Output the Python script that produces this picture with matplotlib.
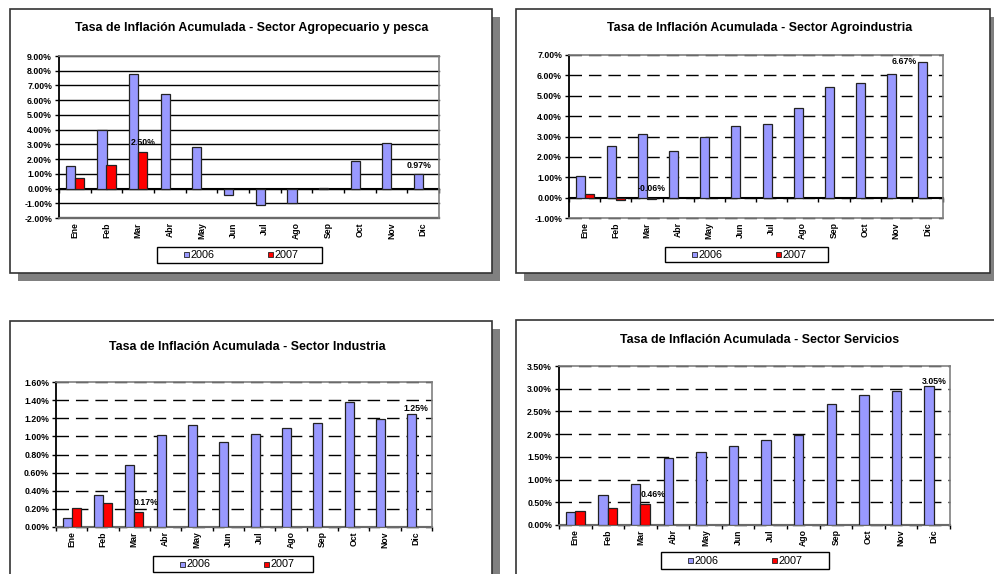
import matplotlib
matplotlib.use("Agg")
import matplotlib.pyplot as plt
from matplotlib.patches import Rectangle
import numpy as np

plt.rcParams['font.family'] = ['Liberation Sans', 'DejaVu Sans']

W, H = 995, 574

months = ["Ene", "Feb", "Mar", "Abr", "May", "Jun", "Jul", "Ago", "Sep", "Oct", "Nov", "Dic"]
series_names = ["2006", "2007"]

titles = [
    "Tasa de Inflación Acumulada - Sector Agropecuario y pesca",
    "Tasa de Inflación Acumulada - Sector Agroindustria",
    "Tasa de Inflación Acumulada - Sector Industria",
    "Tasa de Inflación Acumulada - Sector Servicios",
]

agro_2006 = [1.55, 4.00, 7.80, 6.40, 2.80, -0.45, -1.15, -1.00, 0.05, 1.85, 3.10, 0.97]
agro_2007 = [0.75, 1.60, 2.50]
agroind_2006 = [1.05, 2.52, 3.12, 2.30, 3.00, 3.52, 3.62, 4.40, 5.45, 5.62, 6.05, 6.67]
agroind_2007 = [0.20, -0.10, -0.06]
ind_2006 = [0.10, 0.35, 0.68, 1.02, 1.13, 0.94, 1.03, 1.09, 1.15, 1.38, 1.19, 1.25]
ind_2007 = [0.21, 0.27, 0.17]
serv_2006 = [0.29, 0.67, 0.90, 1.47, 1.61, 1.75, 1.88, 1.98, 2.66, 2.86, 2.96, 3.05]
serv_2007 = [0.31, 0.37, 0.46]

yticks_agro = [-2, -1, 0, 1, 2, 3, 4, 5, 6, 7, 8, 9]
yticks_agroind = [-1, 0, 1, 2, 3, 4, 5, 6, 7]
yticks_ind = [0.0, 0.2, 0.4, 0.6, 0.8, 1.0, 1.2, 1.4, 1.6]
yticks_serv = [0.0, 0.5, 1.0, 1.5, 2.0, 2.5, 3.0, 3.5]

C06 = "#9999FF"
C07 = "#FF0000"

fig = plt.figure(figsize=(W / 100, H / 100), dpi=100)


def fx(x):
    return x / W


def fy(y):
    return 1 - y / H


def frame_box(x0, y0, x1, y1):
    sh = 8
    fig.add_artist(Rectangle((fx(x0 + sh), fy(y1 + sh)), (x1 - x0) / W, (y1 - y0) / H,
                             transform=fig.transFigure, facecolor="#808080",
                             edgecolor="none", zorder=0))
    fig.add_artist(Rectangle((fx(x0), fy(y1)), (x1 - x0) / W, (y1 - y0) / H,
                             transform=fig.transFigure, facecolor="white",
                             edgecolor="#333333", linewidth=1.2, zorder=0.5))


def legend_box(x0, y0, x1, y1):
    fig.add_artist(Rectangle((fx(x0), fy(y1)), (x1 - x0) / W, (y1 - y0) / H,
                             transform=fig.transFigure, facecolor="white",
                             edgecolor="black", linewidth=1.0, zorder=3))
    yc = (y0 + y1) / 2
    for off, col, name in [(27, C06, series_names[0]), (111, C07, series_names[1])]:
        fig.add_artist(Rectangle((fx(x0 + off), fy(yc + 2.5)), 5 / W, 5 / H,
                                 transform=fig.transFigure, facecolor=col,
                                 edgecolor="#222222", linewidth=0.6, zorder=4))
        fig.text(fx(x0 + off + 6.5), fy(yc), name, fontsize=7.8, va="center",
                 ha="left", zorder=4)


def panel(box, area, title, title_xy, v06, v07, yticks, solid, labels, leg):
    frame_box(*box)
    x0, y0, x1, y1 = area
    ax = fig.add_axes([fx(x0), fy(y1), (x1 - x0) / W, (y1 - y0) / H], zorder=2)
    ax.set_facecolor("white")
    x = np.arange(12)
    ymin, ymax = yticks[0], yticks[-1]
    ax.set_xlim(-0.5, 11.5)
    ax.set_ylim(ymin, ymax)
    for sp in ["top", "right", "bottom"]:
        ax.spines[sp].set_color("#808080")
        ax.spines[sp].set_linewidth(1.2)
    ax.spines["left"].set_color("black")
    ax.spines["left"].set_linewidth(1.3)
    # grid
    for t in yticks:
        if solid:
            ax.axhline(t, color="black", linewidth=1.0 if t != ymin else 1.6, zorder=1,
                       clip_on=False)
        else:
            ax.axhline(t, color="black", linewidth=1.0, linestyle=(0, (9, 5)), zorder=1,
                       clip_on=False)
    b06 = ax.bar(x - 0.145, v06, width=0.29, color=C06, edgecolor="#222222",
                 linewidth=0.9, zorder=3)
    b07 = ax.bar(x[:len(v07)] + 0.145, v07, width=0.29, color=C07,
                 edgecolor="#222222", linewidth=0.9, zorder=3)
    ax.set_yticks(yticks)
    ax.set_yticklabels(["%.2f%%" % t for t in yticks], fontsize=6.3, fontweight="bold")
    ax.tick_params(axis="y", direction="out", length=3, width=1, pad=2)
    ax.set_xticks(x)
    ax.set_xticklabels(months, rotation=90, fontsize=6.2, fontweight="bold")
    ax.tick_params(axis="x", length=0, pad=3)
    # zero axis with category tick marks
    zfrac = (0 - ymin) / (ymax - ymin)
    sec = ax.secondary_xaxis(zfrac)
    sec.set_xticks(np.arange(-0.5, 12, 1.0))
    sec.tick_params(axis="x", direction="out", length=3, width=1, labelbottom=False,
                    labeltop=False, colors="black")
    sec.spines["bottom"].set_color("black")
    sec.spines["bottom"].set_linewidth(1.5)
    for sp in ["top", "left", "right"]:
        sec.spines[sp].set_visible(False)
    # data labels
    for series, idx, dx, dy in labels:
        bars = b06 if series == 0 else b07
        vals = v06 if series == 0 else v07
        r = bars[idx]
        xc = r.get_x() + r.get_width() / 2
        yv = max(vals[idx], 0)
        ax.annotate("%.2f%%" % vals[idx], (xc, yv), xytext=(dx, dy),
                    textcoords="offset pixels", ha="center", va="center",
                    fontsize=6.3, fontweight="bold", zorder=5)
    fig.text(fx(title_xy[0]), fy(title_xy[1]), title, fontsize=8.9, fontweight="bold",
             ha="center", va="center", zorder=3)
    legend_box(*leg)
    return ax


panel((10, 9, 492, 273), (59, 56, 439, 218), titles[0], (252, 28),
      agro_2006, agro_2007, yticks_agro, True,
      [(1, 2, 0, 9), (0, 11, 0, 9)], (157, 247, 322, 263))
panel((516, 9, 990, 273), (569, 55, 943, 218), titles[1], (760, 28),
      agroind_2006, agroind_2007, yticks_agroind, False,
      [(1, 2, 0, 9), (0, 11, -19, 0)], (665, 247, 828, 262))
panel((10, 321, 492, 600), (56, 382, 432, 527), titles[2], (247, 347),
      ind_2006, ind_2007, yticks_ind, False,
      [(1, 2, 7, 9), (0, 11, 4, 5)], (153, 556, 313, 572))
panel((516, 320, 1010, 600), (559, 366, 950, 525), titles[3], (760, 340),
      serv_2006, serv_2007, yticks_serv, False,
      [(1, 2, 8, 10), (0, 11, 5, 5)], (661, 552, 829, 569))

fig.savefig("out.png", dpi=100)
